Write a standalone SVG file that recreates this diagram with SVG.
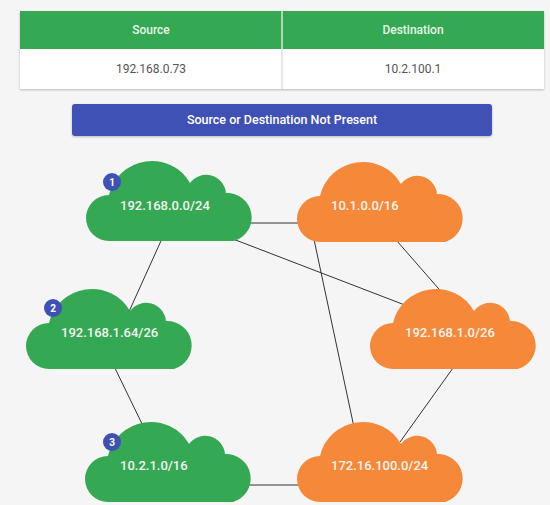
<svg xmlns="http://www.w3.org/2000/svg" width="550" height="505" viewBox="0 0 550 505">
  <style>
    .hdr { fill: #34a853; }
    .hdr-text { font-family: Roboto, "Liberation Sans", sans-serif; font-size: 12px; font-weight: 500; fill: #e8f5e9; text-anchor: middle; }
    .cell-text { font-family: Roboto, "Liberation Sans", sans-serif; font-size: 12px; fill: #555555; text-anchor: middle; }
    .btn-text { font-family: Roboto, "Liberation Sans", sans-serif; font-size: 12.5px; font-weight: 500; fill: #ffffff; text-anchor: middle; }
    .green { fill: #34a853; }
    .orange { fill: #f6883a; }
    .label { font-family: Roboto, "Liberation Sans", sans-serif; font-size: 13px; font-weight: 500; fill: #f4f4f0; }
    .badge { fill: #3f51b5; }
    .badge-text { font-family: Roboto, "Liberation Sans", sans-serif; font-size: 10px; font-weight: 700; fill: #ffffff; text-anchor: middle; }
    .link { stroke: #333333; stroke-width: 1; fill: none; }
  </style>
  <defs>
    <path id="cloud" d="M23,80 A23,23 0 0 1 23,34 A44,44 0 0 1 104,22 A20,20 0 0 1 140,32 A24.5,24.5 0 0 1 148,80 Z"/>
    <filter id="shadow" x="-5%" y="-20%" width="110%" height="150%">
      <feDropShadow dx="0" dy="1" stdDeviation="1" flood-color="#000000" flood-opacity="0.25"/>
    </filter>
  </defs>

  <rect width="550" height="505" fill="#f5f5f5"/>

  <!-- address table -->
  <g id="table">
    <rect x="20" y="11" width="524" height="78" fill="#ffffff" filter="url(#shadow)"/>
    <rect class="hdr" x="20" y="11" width="524" height="38"/>
    <line x1="282" y1="11" x2="282" y2="89" stroke="#e0e0e0" stroke-width="1.5"/>
    <text class="hdr-text" x="151" y="34">Source</text>
    <text class="hdr-text" x="413" y="34">Destination</text>
    <text class="cell-text" x="151" y="73">192.168.0.73</text>
    <text class="cell-text" x="413" y="73">10.2.100.1</text>
  </g>

  <!-- status button -->
  <g id="status">
    <rect x="72" y="104" width="420" height="32" rx="3" fill="#3f51b5" filter="url(#shadow)"/>
    <text class="btn-text" x="282" y="124">Source or Destination Not Present</text>
  </g>

  <!-- links between networks -->
  <g id="links">
    <line class="link" x1="165" y1="232" x2="127" y2="316"/>
    <line class="link" x1="240" y1="223" x2="310" y2="223"/>
    <line class="link" x1="220" y1="234" x2="410" y2="307"/>
    <line class="link" x1="312" y1="230" x2="355" y2="432"/>
    <line class="link" x1="390" y1="233" x2="445" y2="296"/>
    <line class="link" x1="458" y1="361" x2="400" y2="442"/>
    <line class="link" x1="112" y1="362" x2="145" y2="430"/>
    <line class="link" x1="240" y1="485" x2="310" y2="485"/>
  </g>

  <!-- networks -->
  <g id="net-192-168-0-0" transform="translate(86,161)">
    <use href="#cloud" class="green"/>
    <text class="label" x="34" y="49">192.168.0.0/24</text>
    <circle class="badge" cx="26" cy="21" r="9"/>
    <text class="badge-text" x="26" y="25">1</text>
  </g>

  <g id="net-192-168-1-64" transform="translate(26,289)">
    <use href="#cloud" class="green"/>
    <text class="label" x="35" y="48">192.168.1.64/26</text>
    <circle class="badge" cx="27" cy="19" r="9"/>
    <text class="badge-text" x="27" y="23">2</text>
  </g>

  <g id="net-10-2-1-0" transform="translate(85,422)">
    <use href="#cloud" class="green"/>
    <text class="label" x="35" y="48">10.2.1.0/16</text>
    <circle class="badge" cx="27" cy="20" r="9"/>
    <text class="badge-text" x="27" y="24">3</text>
  </g>

  <g id="net-10-1-0-0" transform="translate(297,162)">
    <use href="#cloud" class="orange"/>
    <text class="label" x="34" y="48">10.1.0.0/16</text>
  </g>

  <g id="net-192-168-1-0" transform="translate(370,289)">
    <use href="#cloud" class="orange"/>
    <text class="label" x="35" y="48">192.168.1.0/26</text>
  </g>

  <g id="net-172-16-100-0" transform="translate(297,422)">
    <use href="#cloud" class="orange"/>
    <text class="label" x="34" y="48">172.16.100.0/24</text>
  </g>
</svg>
